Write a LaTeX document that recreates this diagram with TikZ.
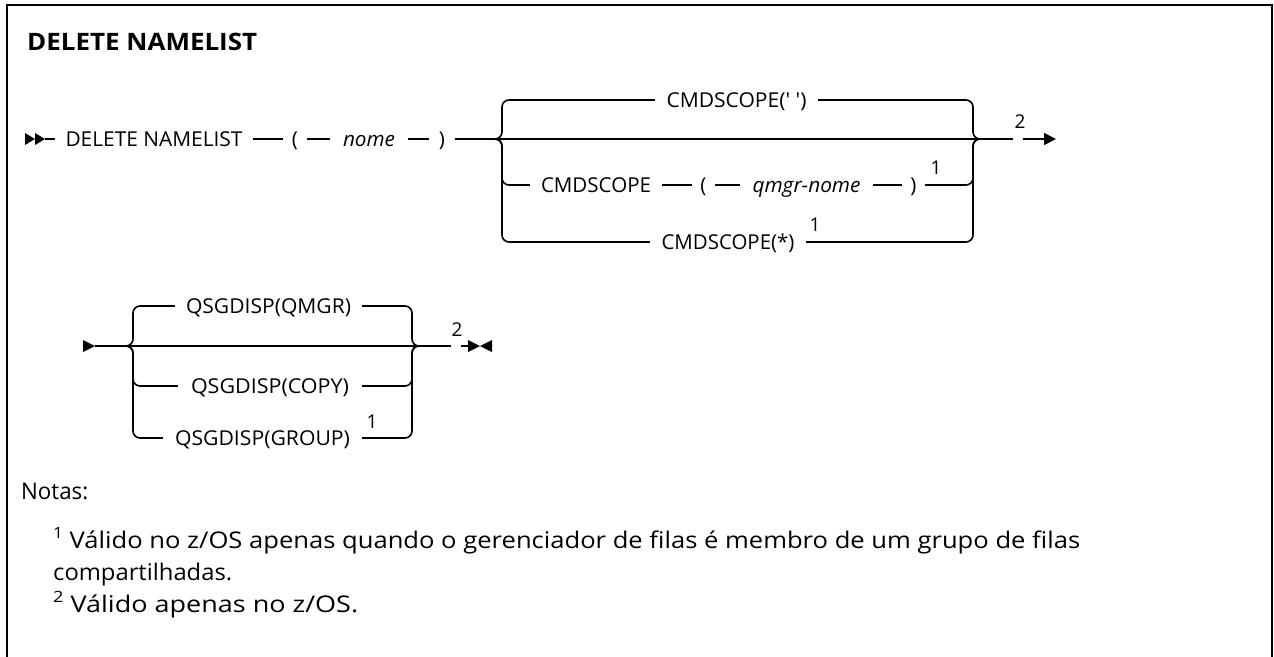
\documentclass[tikz,border=0pt]{standalone}
\usepackage{fontspec}
\setmainfont{Open Sans}
\usepackage{graphicx}
\usetikzlibrary{arrows.meta}
\newlength\fitlen
\newcommand\fitto[2]{\settowidth\fitlen{#2}\pgfmathsetmacro\fitfac{#1/\fitlen}\scalebox{\fitfac}[1]{#2}}
\newcommand\nsup[1]{\raisebox{0.42em}{\fontsize{15.5}{15}\selectfont #1}}
\tikzset{
  rr/.style={line width=1.6pt, line cap=butt},
  tok/.style={font=\fontsize{20.5}{24}\selectfont, inner sep=0pt, text height=14.5pt, text depth=0pt, minimum height=14.5pt, anchor=center},
  gapnode/.style={inner sep=0pt, minimum height=1pt, minimum width=10pt},
  fnmark/.style={font=\fontsize{19}{22}\selectfont, inner sep=0pt},
  notetext/.style={font=\fontsize{23}{27}\selectfont, inner sep=0pt, anchor=base west},
  tipfill/.style={fill=black, draw=none},
  frame/.style={line width=2pt},
}
\begin{document}
\begin{tikzpicture}[x=1pt,y=-1pt]
\useasboundingbox (0,0) rectangle (1274,656);
% frame
\draw[frame] (7,664) -- (7,5) -- (1272,5) -- (1272,664);
% title
\node[anchor=base west, inner sep=0pt, font=\fontsize{24}{28}\selectfont\bfseries] (title) at (27,50) {\fitto{230}{DELETE NAMELIST}};

% ---------- row 1 ----------
\fill[tipfill] (25,133) -- (35,139) -- (25,145) -- cycle;
\fill[tipfill] (35,133) -- (45,139) -- (35,145) -- cycle;
\coordinate (s1) at (45,139);
\node[tok, minimum width=198pt] (del) at (154,139) {\fitto{177}{DELETE NAMELIST}};
\node[tok, minimum width=24pt] (lp1) at (295,139) {(};
\node[tok, minimum width=78pt] (nome) at (369,139) {\fitto{52}{\itshape nome}};
\node[tok, minimum width=26pt] (rp1) at (442,139) {)};
\coordinate (lb1) at (494,139);
\coordinate (rb1) at (980,139);
\node[tok, minimum width=163pt] (cs1) at (736.5,100) {\fitto{140}{CMDSCOPE(\textquotesingle\ \textquotesingle)}};
\node[tok, minimum width=132pt] (cs2) at (596,185) {\fitto{110}{CMDSCOPE}};
\node[tok, minimum width=23pt] (lp2) at (703.5,185) {(};
\node[tok, minimum width=133pt] (qm) at (806.5,185) {\fitto{108}{\itshape qmgr-nome}};
\node[tok, minimum width=23pt] (rp2) at (913.5,185) {)};
\node[tok, minimum width=156pt] (cs3) at (728,242) {\fitto{133}{CMDSCOPE(*)}};
\node[fnmark] (f1a) at (936,168) {1};
\node[fnmark] (f1b) at (815,225) {1};
\node[gapnode] (g1) at (1018,139) {};
\node[fnmark] (f2a) at (1020,122) {2};
\coordinate (e1) at (1056,139);

\draw[rr] (s1) -- (del);
\draw[rr] (del) -- (lp1);
\draw[rr] (lp1) -- (nome);
\draw[rr] (nome) -- (rp1);
\draw[rr] (rp1) -- (lb1);
\draw[rr] (lb1) -- (rb1);
\draw[rr, rounded corners=7pt] (lb1) -- (502,139) -- (502,100) -- (cs1);
\draw[rr, rounded corners=7pt] (lb1) -- (502,139) -- (502,185) -- (cs2);
\draw[rr, rounded corners=7pt] (lb1) -- (502,139) -- (502,242) -- (cs3);
\draw[rr] (cs2) -- (lp2);
\draw[rr] (lp2) -- (qm);
\draw[rr] (qm) -- (rp2);
\draw[rr, rounded corners=7pt] (cs1) -- (973,100) -- (973,139) -- (rb1);
\draw[rr, rounded corners=7pt] (rp2) -- (973,185) -- (973,139) -- (rb1);
\draw[rr, rounded corners=7pt] (cs3) -- (973,242) -- (973,139) -- (rb1);
\draw[rr] (rb1) -- (g1);
\draw[rr, -{Triangle[length=12pt,width=12pt]}] (g1) -- (e1);

% ---------- row 2 ----------
\fill[tipfill] (83,340) -- (95,346) -- (83,352) -- cycle;
\coordinate (s2) at (95,346);
\coordinate (lb2) at (126,346);
\coordinate (rb2) at (418,346);
\node[tok, minimum width=187pt] (q1) at (268.5,306) {\fitto{165}{QSGDISP(QMGR)}};
\node[tok, minimum width=184pt] (q2) at (270,386) {\fitto{158}{QSGDISP(COPY)}};
\node[tok, minimum width=199pt] (q3) at (262.5,438) {\fitto{175}{QSGDISP(GROUP)}};
\node[fnmark] (f1c) at (372,422) {1};
\node[gapnode] (g2) at (456,346) {};
\node[fnmark] (f2b) at (457,330) {2};
\coordinate (e2) at (468,346);
\fill[tipfill] (468,340) -- (480,346) -- (468,352) -- cycle;
\fill[tipfill] (492,340) -- (480,346) -- (492,352) -- cycle;

\draw[rr] (s2) -- (lb2);
\draw[rr] (lb2) -- (rb2);
\draw[rr, rounded corners=7pt] (lb2) -- (133,346) -- (133,306) -- (q1);
\draw[rr, rounded corners=7pt] (lb2) -- (133,346) -- (133,386) -- (q2);
\draw[rr, rounded corners=7pt] (lb2) -- (133,346) -- (133,438) -- (q3);
\draw[rr, rounded corners=7pt] (q1) -- (412,306) -- (412,346) -- (rb2);
\draw[rr, rounded corners=7pt] (q2) -- (412,386) -- (412,346) -- (rb2);
\draw[rr, rounded corners=7pt] (q3) -- (412,438) -- (412,346) -- (rb2);
\draw[rr] (rb2) -- (g2);
\draw[rr] (g2) -- (e2);

% ---------- notes ----------
\node[notetext] (notas) at (21,499) {\fitto{67}{Notas:}};
\node[notetext] (n1) at (53,548) {\fitto{1027}{\nsup{1} Válido no z/OS apenas quando o gerenciador de filas é membro de um grupo de filas}};
\node[notetext] (n1b) at (53,580) {\fitto{179}{compartilhadas.}};
\node[notetext] (n2) at (53,612) {\fitto{305}{\nsup{2} Válido apenas no z/OS.}};
\end{tikzpicture}
\end{document}
